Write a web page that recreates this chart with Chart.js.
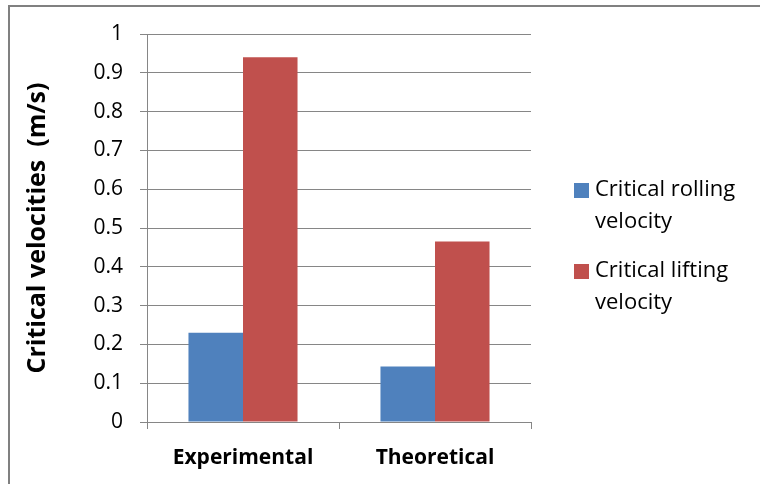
<!DOCTYPE html>
<html>
<head>
<meta charset="utf-8">
<script src="https://cdn.jsdelivr.net/npm/chart.js@4/dist/chart.umd.min.js"></script>
<style>
html,body{margin:0;padding:0;background:#fff;}
#wrap{width:760px;height:484px;position:relative;}
</style>
</head>
<body>
<div id="wrap"><canvas id="c" width="760" height="484"></canvas></div>
<script>
const categories = ["Experimental", "Theoretical"];
const seriesNames = ["Critical rolling velocity", "Critical lifting velocity"];
const legendLines = [["Critical rolling", "velocity"], ["Critical lifting", "velocity"]];
const rollingValues = [0.23, 0.143];
const liftingValues = [0.94, 0.465];
const yTicks = [0, 0.1, 0.2, 0.3, 0.4, 0.5, 0.6, 0.7, 0.8, 0.9, 1];
const yTitle = "Critical velocities  (m/s)";
const colors = ["#4F81BD", "#C0504D"];

const FONT = "'Open Sans', 'Liberation Sans', sans-serif";

const framePlugin = {
  id: 'frame',
  afterDraw(chart) {
    const ctx = chart.ctx;
    ctx.save();
    ctx.fillStyle = '#808080';
    ctx.fillRect(8, 5, 752, 2);
    ctx.fillRect(8, 5, 2, 479);
    // legend
    const boxX = 574, box = 15;
    const starts = [183, 264];
    ctx.font = "22px " + FONT;
    ctx.textBaseline = 'middle';
    ctx.textAlign = 'left';
    chart.data.datasets.forEach((ds, i) => {
      const y0 = starts[i];
      ctx.fillStyle = ds.backgroundColor;
      ctx.fillRect(boxX, y0, box, box);
      ctx.fillStyle = '#000';
      legendLines[i].forEach((ln, j) => {
        ctx.fillText(ln, 595, y0 + 7 + j * 32);
      });
    });
    ctx.restore();
  }
};

new Chart(document.getElementById('c'), {
  type: 'bar',
  data: {
    labels: categories,
    datasets: [
      { label: seriesNames[0], data: rollingValues, backgroundColor: colors[0] },
      { label: seriesNames[1], data: liftingValues, backgroundColor: colors[1] }
    ]
  },
  options: {
    responsive: false,
    animation: false,
    devicePixelRatio: 1,
    layout: { padding: { left: 15, top: 34, right: 229, bottom: 0 } },
    plugins: { legend: { display: false }, tooltip: { enabled: false } },
    datasets: { bar: { categoryPercentage: 0.568, barPercentage: 1 } },
    scales: {
      x: {
        grid: { display: true, drawOnChartArea: false, offset: true, tickLength: 7, color: '#868686', lineWidth: 1 },
        border: { color: '#868686', width: 1 },
        ticks: { color: '#000', font: { family: FONT, size: 21, weight: 'bold' }, padding: 16 },
        afterFit(s) { s.height = 62; }
      },
      y: {
        min: 0, max: 1,
        afterBuildTicks(s) { s.ticks = yTicks.map(v => ({ value: v })); },
        grid: { color: '#868686', lineWidth: 1, tickLength: 7 },
        border: { color: '#868686', width: 1 },
        ticks: {
          color: '#000', font: { family: FONT, size: 21 }, padding: 17,
          callback: v => String(v)
        },
        title: {
          display: true, text: yTitle, color: '#000',
          font: { family: FONT, size: 25, weight: 'bold' },
          padding: { top: 8, bottom: 0 }
        },
        afterFit(s) { s.width = 132; }
      }
    }
  },
  plugins: [framePlugin]
});
</script>
</body>
</html>
